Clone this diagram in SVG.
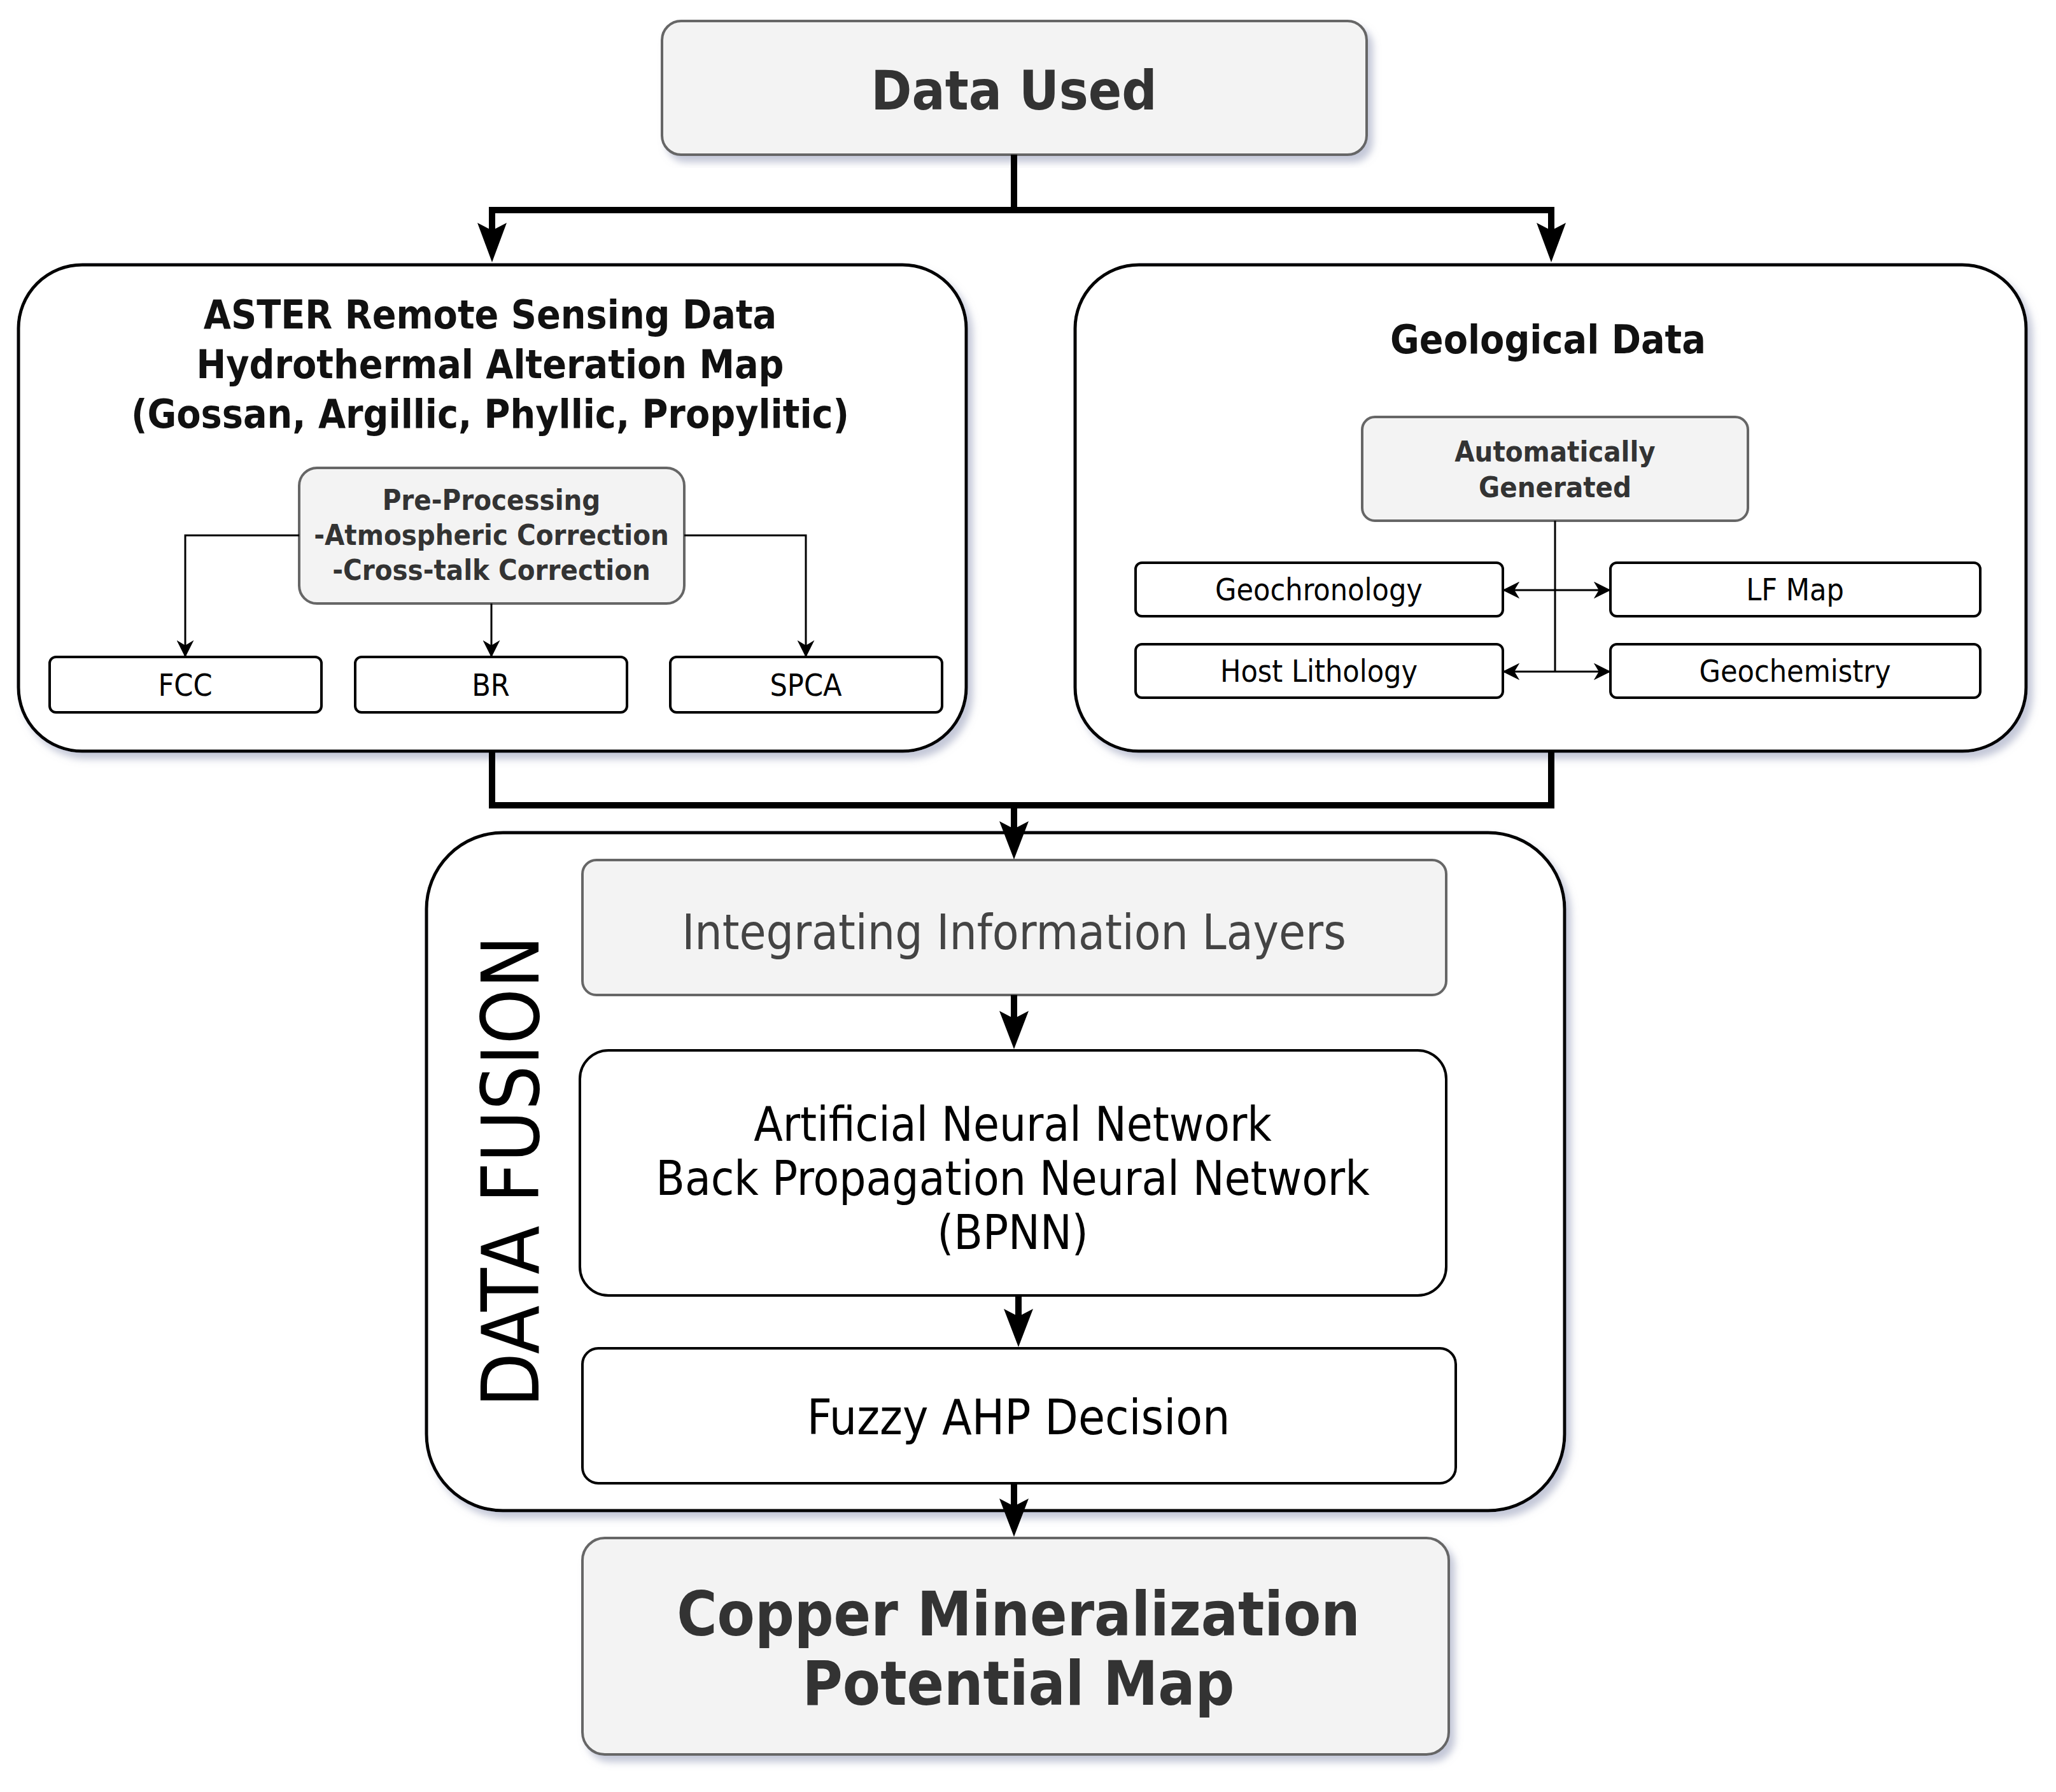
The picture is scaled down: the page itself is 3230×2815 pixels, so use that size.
<svg xmlns="http://www.w3.org/2000/svg" width="3230" height="2815" viewBox="0 0 3230 2815">
<defs>
<filter id="sh" x="-5%" y="-5%" width="112%" height="115%"><feDropShadow dx="8" dy="10" stdDeviation="6" flood-color="#8890b0" flood-opacity="0.5"/></filter>
<marker id="ah" viewBox="0 0 10 10" refX="9" refY="5" markerWidth="9" markerHeight="9" orient="auto"><path d="M0,0 L10,5 L0,10 L3,5 z" fill="#000"/></marker>
</defs>
<style>
text{font-family:"DejaVu Sans Condensed","DejaVu Sans",Verdana,sans-serif;text-anchor:middle}
.gray{fill:#f3f3f3;stroke:#666;stroke-width:4}
.panel{fill:#fff;stroke:#000;stroke-width:5}
.wb{fill:#fff;stroke:#000;stroke-width:4}
.b{font-weight:bold;fill:#333}
.bk{font-weight:bold;fill:#111}
.thick{fill:none;stroke:#000;stroke-width:10}
.thin{fill:none;stroke:#000;stroke-width:3}
</style>
<g id="data-used"><rect x="1040" y="33" width="1107" height="210" rx="30" class="gray" filter="url(#sh)"/><text x="1593" y="172" font-size="86" class="b">Data Used</text></g>
<g id="aster"><rect x="29" y="416" width="1489" height="764" rx="100" class="panel" filter="url(#sh)"/>
<text x="770" y="516" font-size="62" class="bk">ASTER Remote Sensing Data</text>
<text x="770" y="594" font-size="62" class="bk">Hydrothermal Alteration Map</text>
<text x="770" y="672" font-size="62" class="bk">(Gossan, Argillic, Phyllic, Propylitic)</text></g>
<g id="preproc"><rect x="470" y="735" width="605" height="213" rx="28" class="gray"/>
<text x="772" y="801" font-size="45" class="b">Pre-Processing</text>
<text x="772" y="856" font-size="45" class="b">-Atmospheric Correction</text>
<text x="772" y="911" font-size="45" class="b">-Cross-talk Correction</text></g>
<g id="fcc"><rect x="78" y="1032" width="427" height="87" rx="10" class="wb"/><text x="291" y="1093" font-size="48">FCC</text></g>
<g id="br"><rect x="558" y="1032" width="427" height="87" rx="10" class="wb"/><text x="771" y="1093" font-size="48">BR</text></g>
<g id="spca"><rect x="1053" y="1032" width="427" height="87" rx="10" class="wb"/><text x="1266" y="1093" font-size="48">SPCA</text></g>
<g id="geo"><rect x="1689" y="416" width="1494" height="764" rx="100" class="panel" filter="url(#sh)"/><text x="2432" y="555" font-size="62" class="bk">Geological Data</text></g>
<g id="auto"><rect x="2140" y="655" width="606" height="163" rx="20" class="gray"/>
<text x="2443" y="725" font-size="45" class="b">Automatically</text><text x="2443" y="781" font-size="45" class="b">Generated</text></g>
<g id="geochron"><rect x="1784" y="884" width="577" height="84" rx="10" class="wb"/><text x="2072" y="943" font-size="48">Geochronology</text></g>
<g id="lfmap"><rect x="2530" y="884" width="581" height="84" rx="10" class="wb"/><text x="2820" y="943" font-size="48">LF Map</text></g>
<g id="hostlith"><rect x="1784" y="1012" width="577" height="84" rx="10" class="wb"/><text x="2072" y="1071" font-size="48">Host Lithology</text></g>
<g id="geochem"><rect x="2530" y="1012" width="581" height="84" rx="10" class="wb"/><text x="2820" y="1071" font-size="48">Geochemistry</text></g>
<g id="fusion"><rect x="670" y="1308" width="1788" height="1065" rx="120" class="panel" filter="url(#sh)"/>
<text transform="translate(846,1840) rotate(-90)" font-size="124" fill="#000" font-family="Liberation Sans,Arial,sans-serif">DATA FUSION</text></g>
<g id="integ"><rect x="915" y="1351" width="1357" height="212" rx="22" class="gray"/><text x="1593" y="1491" font-size="76" fill="#444">Integrating Information Layers</text></g>
<g id="ann"><rect x="911" y="1650" width="1361" height="385" rx="45" class="wb"/>
<text x="1591" y="1792" font-size="74">Artificial Neural Network</text>
<text x="1591" y="1877" font-size="74">Back Propagation Neural Network</text>
<text x="1591" y="1962" font-size="74">(BPNN)</text></g>
<g id="fuzzy"><rect x="915" y="2118" width="1372" height="212" rx="25" class="wb"/><text x="1600" y="2253" font-size="76">Fuzzy AHP Decision</text></g>
<g id="copper"><rect x="915" y="2416" width="1361" height="340" rx="35" class="gray" filter="url(#sh)"/>
<text x="1600" y="2569" font-size="96" class="b">Copper Mineralization</text><text x="1600" y="2678" font-size="96" class="b">Potential Map</text></g>
<g id="connectors">
<path class="thick" d="M1593,243 V330 M773,330 H2437 M773,325 V390 M2437,325 V390"/>
<path d="M750,350 L773,412 L796,350 L773,362 z M2414,350 L2437,412 L2460,350 L2437,362 z"/>
<path class="thin" d="M470,841 H291 V1030" marker-end="url(#ah)"/>
<path class="thin" d="M1075,841 H1266 V1030" marker-end="url(#ah)"/>
<path class="thin" d="M772,948 V1030" marker-end="url(#ah)"/>
<path class="thin" d="M2443,818 V1055"/>
<path class="thin" d="M2443,927 H2363" marker-end="url(#ah)"/>
<path class="thin" d="M2443,927 H2528" marker-end="url(#ah)"/>
<path class="thin" d="M2443,1055 H2363" marker-end="url(#ah)"/>
<path class="thin" d="M2443,1055 H2528" marker-end="url(#ah)"/>
<path class="thick" d="M773,1180 V1265 H2437 V1180 M1593,1265 V1320"/>
<path d="M1570,1290 L1593,1350 L1616,1290 L1593,1302 z"/>
<path class="thick" d="M1593,1563 V1620"/><path d="M1570,1588 L1593,1648 L1616,1588 L1593,1600 z"/>
<path class="thick" d="M1600,2035 V2090"/><path d="M1577,2056 L1600,2116 L1623,2056 L1600,2068 z"/>
<path class="thick" d="M1593,2330 V2390"/><path d="M1570,2354 L1593,2414 L1616,2354 L1593,2366 z"/>
</g>
</svg>
